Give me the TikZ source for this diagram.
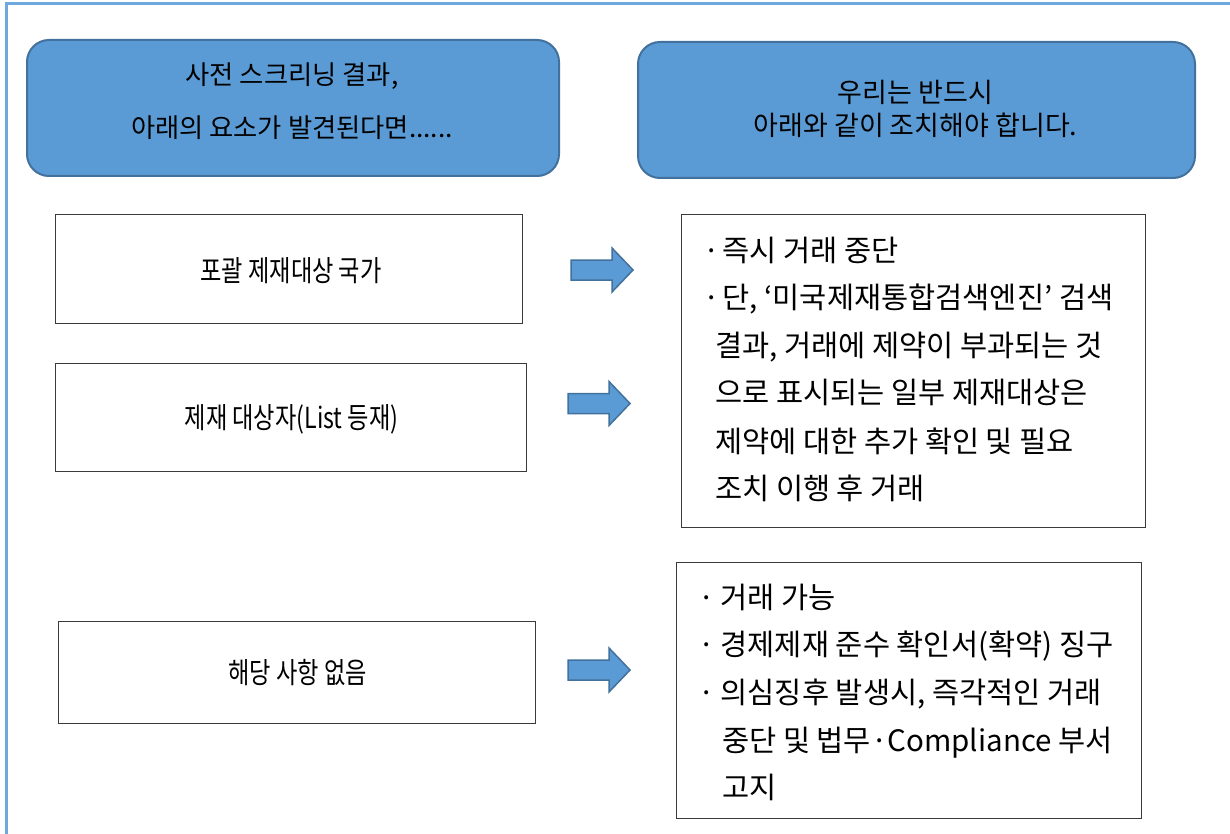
\documentclass[tikz,border=0pt]{standalone}
\usepackage{fontspec}
\usepackage{graphicx}
\setmainfont{Noto Sans CJK KR}
\newfontfamily\kr{Noto Sans CJK KR}
\definecolor{framecol}{HTML}{6FA8DC}
\definecolor{hdrfill}{HTML}{5B9BD5}
\definecolor{hdrline}{HTML}{41719C}
\definecolor{boxline}{HTML}{3A3A3A}
\tikzset{
  frameline/.style={draw=framecol, line width=3pt},
  hdrbox/.style={draw=hdrline, fill=hdrfill, line width=2pt, rounded corners=22pt, anchor=north west, inner sep=0pt},
  plainbox/.style={draw=boxline, line width=1.4pt, anchor=north west, inner sep=0pt},
  arrowstyle/.style={fill=hdrfill, draw=hdrline, line width=1.5pt, line join=miter},
  blockarrow/.pic={\filldraw[arrowstyle] (0,-10) -- (41,-10) -- (41,-22) -- (62,0) -- (41,22) -- (41,10) -- (0,10) -- cycle;},
  hdrtxtL/.style={anchor=base, inner sep=0pt, font=\kr\fontsize{26.3}{32}\selectfont},
  hdrtxtR/.style={anchor=base, inner sep=0pt, font=\kr\fontsize{27}{32}\selectfont},
  lefttxt/.style={anchor=base, inner sep=0pt, font=\kr\fontsize{29}{34}\selectfont},
  dtxt/.style={anchor=base west, inner sep=0pt, font=\kr\fontsize{29.5}{34}\selectfont},
  etxt/.style={anchor=base west, inner sep=0pt, font=\kr\fontsize{29.5}{34}\selectfont},
}
\newcommand{\bulD}{\makebox[0pt][c]{·}\hspace{10.5pt}}
\newcommand{\bulE}{\makebox[0pt][c]{·}\hspace{13.5pt}}
\begin{document}
\begin{tikzpicture}[x=1pt,y=-1pt]
\useasboundingbox (0,0) rectangle (1230,834);
\fill[white] (0,0) rectangle (1230,834);
\draw[frameline] (6,834) -- (6,4) -- (1230,4);

% header boxes
\node[hdrbox, minimum width=532, minimum height=136] (hL) at (26,39) {};
\node[hdrbox, minimum width=557, minimum height=136] (hR) at (637,41) {};
\node[hdrtxtL] (hL1) at (292,85) {사전 스크리닝 결과,};
\node[hdrtxtL] (hL2) at (292,138) {아래의 요소가 발견된다면......};
\node[hdrtxtR] (hR1) at (915.5,102.4) {우리는 반드시};
\node[hdrtxtR] (hR2) at (915.5,135.4) {아래와 같이 조치해야 합니다.};

% left boxes
\node[plainbox, minimum width=467, minimum height=109] (bA) at (55,214) {};
\node[plainbox, minimum width=471, minimum height=108] (bB) at (55,363) {};
\node[plainbox, minimum width=477, minimum height=102] (bC) at (58,621) {};
\node[lefttxt] (tA) at (291,281) {\scalebox{0.8}[1]{포괄 제재대상 국가}};
\node[lefttxt] (tB) at (291.5,428) {\scalebox{0.8}[1]{제재 대상자(List 등재)}};
\node[lefttxt] (tC) at (297.5,683) {\scalebox{0.8}[1]{해당 사항 없음}};

% arrows
\pic at (571,270) {blockarrow};
\pic at (568,403.5) {blockarrow};
\pic at (568,670) {blockarrow};

% right boxes
\node[plainbox, minimum width=464, minimum height=313] (bD) at (681,214) {};
\node[plainbox, minimum width=465, minimum height=256] (bE) at (676,562) {};

\node[dtxt] (d1) at (712,261) {\bulD 즉시 거래 중단};
\node[dtxt] (d2) at (712,308) {\bulD 단, ‘미국제재통합검색엔진’ 검색};
\node[dtxt] (d3) at (715,356) {결과, 거래에 제약이 부과되는 것};
\node[dtxt] (d4) at (715,403) {으로 표시되는 일부 제재대상은};
\node[dtxt] (d5) at (715,452) {제약에 대한 추가 확인 및 필요};
\node[dtxt] (d6) at (715,499) {조치 이행 후 거래};

\node[etxt] (e1) at (707,608) {\bulE 거래 가능};
\node[etxt] (e2) at (707,655) {\bulE 경제제재 준수 확인서(확약) 징구};
\node[etxt] (e3) at (707,703) {\bulE 의심징후 발생시, 즉각적인 거래};
\node[etxt] (e4) at (722,751) {중단 및 법무·Compliance 부서};
\node[etxt] (e5) at (722,798) {고지};
\end{tikzpicture}
\end{document}
